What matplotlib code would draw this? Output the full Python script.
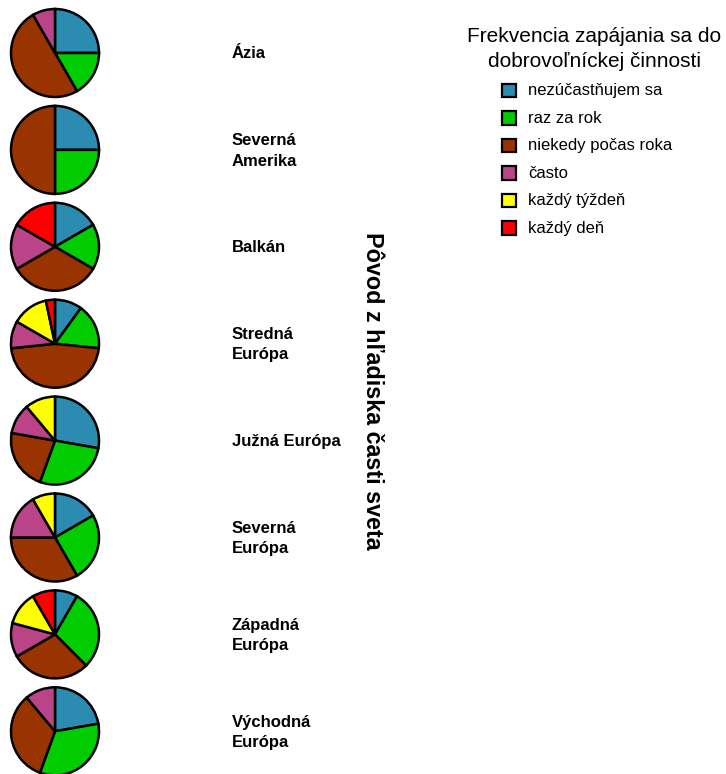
import matplotlib
matplotlib.use('Agg')
import matplotlib.pyplot as plt
from matplotlib.patches import Rectangle

plt.rcParams['font.family'] = ['Liberation Sans', 'DejaVu Sans']

categories = ["nezúčastňujem sa", "raz za rok", "niekedy počas roka", "často",
              "každý týždeň", "každý deň"]
colors = ['#2B8BB0', '#00CC00', '#993300', '#BB4488', '#FFFF00', '#FF0000']

regions = ["Ázia", "Severná\nAmerika", "Balkán", "Stredná\nEurópa", "Južná Európa",
           "Severná\nEurópa", "Západná\nEurópa", "Východná\nEurópa"]
azia = [3, 2, 6, 1, 0, 0]
severna_amerika = [1, 1, 2, 0, 0, 0]
balkan = [1, 1, 2, 1, 0, 1]
stredna_europa = [3, 5, 14, 3, 4, 1]
juzna_europa = [5, 5, 4, 2, 2, 0]
severna_europa = [2, 3, 4, 2, 1, 0]
zapadna_europa = [2, 7, 7, 3, 3, 2]
vychodna_europa = [2, 3, 3, 1, 0, 0]
values = [azia, severna_amerika, balkan, stredna_europa, juzna_europa,
          severna_europa, zapadna_europa, vychodna_europa]

axis_title = "Pôvod z hľadiska časti sveta"
legend_title = "Frekvencia zapájania sa do\ndobrovoľníckej činnosti"

W, H = 726, 774
fig = plt.figure(figsize=(W / 100, H / 100), dpi=100)

cx = 55
r = 44
cy0, dy = 53, 96.9
half = 48
for i, (reg, vals) in enumerate(zip(regions, values)):
    cy = cy0 + i * dy
    ax = fig.add_axes([(cx - half) / W, 1 - (cy + half) / H, 2 * half / W, 2 * half / H])
    v = [x for x in vals if x > 0]
    c = [col for x, col in zip(vals, colors) if x > 0]
    ax.pie(v, colors=c, startangle=90, counterclock=False, radius=1,
           wedgeprops=dict(edgecolor='black', linewidth=1.8))
    lim = half / r
    ax.set_xlim(-lim, lim)
    ax.set_ylim(-lim, lim)
    ax.set_aspect('equal')
    ax.axis('off')
    fig.text(232 / W, 1 - (cy + 1) / H, reg, ha='left', va='center', fontsize=12,
             fontweight='bold', linespacing=1.45)

fig.text(373 / W, 1 - 391 / H, axis_title, rotation=-90, ha='center', va='center',
         fontsize=16.8, fontweight='bold')

fig.text(594 / W, 1 - 49 / H, legend_title, ha='center', va='center', fontsize=15,
         linespacing=1.35)

box = 13.5
for j, (cat, col) in enumerate(zip(categories, colors)):
    yc = 90.7 + j * 27.5
    fig.add_artist(Rectangle(((502) / W, 1 - (yc + box / 2) / H), box / W, box / H,
                             facecolor=col, edgecolor='black', linewidth=1.6,
                             transform=fig.transFigure))
    fig.text(528 / W, 1 - yc / H, cat, ha='left', va='center', fontsize=12)

fig.savefig('out.png', dpi=100)
